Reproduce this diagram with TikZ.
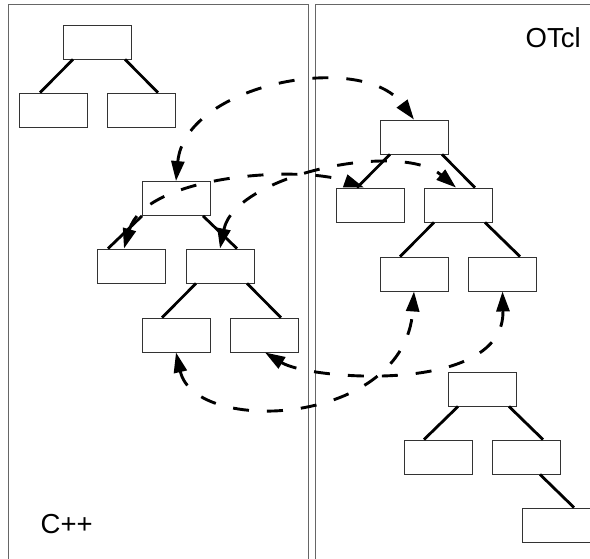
\documentclass[tikz,border=0pt]{standalone}
\usepackage{fontspec}
\setmainfont{Liberation Sans}
\usetikzlibrary{arrows.meta}
\begin{document}
\begin{tikzpicture}[x=1pt,y=-1pt,
  bx/.style={draw=black!80, line width=0.9pt, minimum width=68pt, minimum height=34pt, inner sep=0pt, fill=white},
  edge/.style={line width=2.8pt},
  link/.style={line width=2.9pt, dash pattern=on 16pt off 18pt, {Triangle[length=20pt,width=13pt]}-{Triangle[length=20pt,width=13pt]}},
  panel/.style={draw=black!60, line width=0.9pt},
  lbl/.style={font=\fontsize{27.5}{30}\selectfont, inner sep=0pt, anchor=base west}]
\useasboundingbox (0,0) rectangle (590,558);
\clip (0,0) rectangle (590,558);
% panels
\draw[panel] (8,4) rectangle (308,580);
\draw[panel] (315,4) rectangle (610,580);
\node[lbl] (otcl) at (525.5,47) {OTcl};
\node[lbl] (cpp) at (40.5,533) {C++};
% top-left tree
\node[bx] (LT0) at (97,42) {};
\node[bx] (LT1) at (53,110) {};
\node[bx] (LT2) at (141.5,110) {};
% mid-left tree
\node[bx] (M0) at (176,198.5) {};
\node[bx] (M1) at (131,266) {};
\node[bx] (M2) at (220,266) {};
\node[bx] (M21) at (176,335) {};
\node[bx] (M22) at (264,335) {};
% right tree
\node[bx] (R0) at (414,137) {};
\node[bx] (R1) at (370,205) {};
\node[bx] (R2) at (458,205) {};
\node[bx] (R21) at (414,274) {};
\node[bx] (R22) at (502.5,274) {};
% bottom-right tree
\node[bx] (B0) at (482,389) {};
\node[bx] (B1) at (438,457) {};
\node[bx] (B2) at (526,457) {};
\node[bx] (B21) at (556,525) {};
% tree edges
\draw[edge] ([xshift=-24pt]LT0.south) -- ([xshift=-13pt]LT1.north);
\draw[edge] ([xshift=28pt]LT0.south) -- ([xshift=16.5pt]LT2.north);
\draw[edge] ([xshift=-34pt]M0.south) -- ([xshift=-23pt]M1.north);
\draw[edge] ([xshift=27pt]M0.south) -- ([xshift=17pt]M2.north);
\draw[edge] ([xshift=-24pt]M2.south) -- ([xshift=-14pt]M21.north);
\draw[edge] ([xshift=27pt]M2.south) -- ([xshift=17pt]M22.north);
\draw[edge] ([xshift=-24pt]R0.south) -- ([xshift=-13pt]R1.north);
\draw[edge] ([xshift=28pt]R0.south) -- ([xshift=17pt]R2.north);
\draw[edge] ([xshift=-24pt]R2.south) -- ([xshift=-14pt]R21.north);
\draw[edge] ([xshift=27pt]R2.south) -- ([xshift=17.5pt]R22.north);
\draw[edge] ([xshift=-24pt]B0.south) -- ([xshift=-14pt]B1.north);
\draw[edge] ([xshift=27pt]B0.south) -- ([xshift=17pt]B2.north);
\draw[edge] ([xshift=14pt]B2.south) -- ([xshift=18pt]B21.north);
% links C++ <-> OTcl
\draw[link] (M0.north) .. controls (185,84) and (362,50) .. (R0.north);
\draw[link] ([xshift=-7pt]M1.north) .. controls (145,175) and (300,165) .. ([xshift=-6pt]R1.north);
\draw[link] (M2.north) .. controls (235,175) and (400,140) .. ([xshift=-2pt]R2.north);
\draw[link] (M21.south) .. controls (195,436) and (405,426) .. (R21.south);
\draw[link] ([xshift=1pt]M22.south) .. controls (310,380) and (505,395) .. (R22.south);
\end{tikzpicture}
\end{document}
